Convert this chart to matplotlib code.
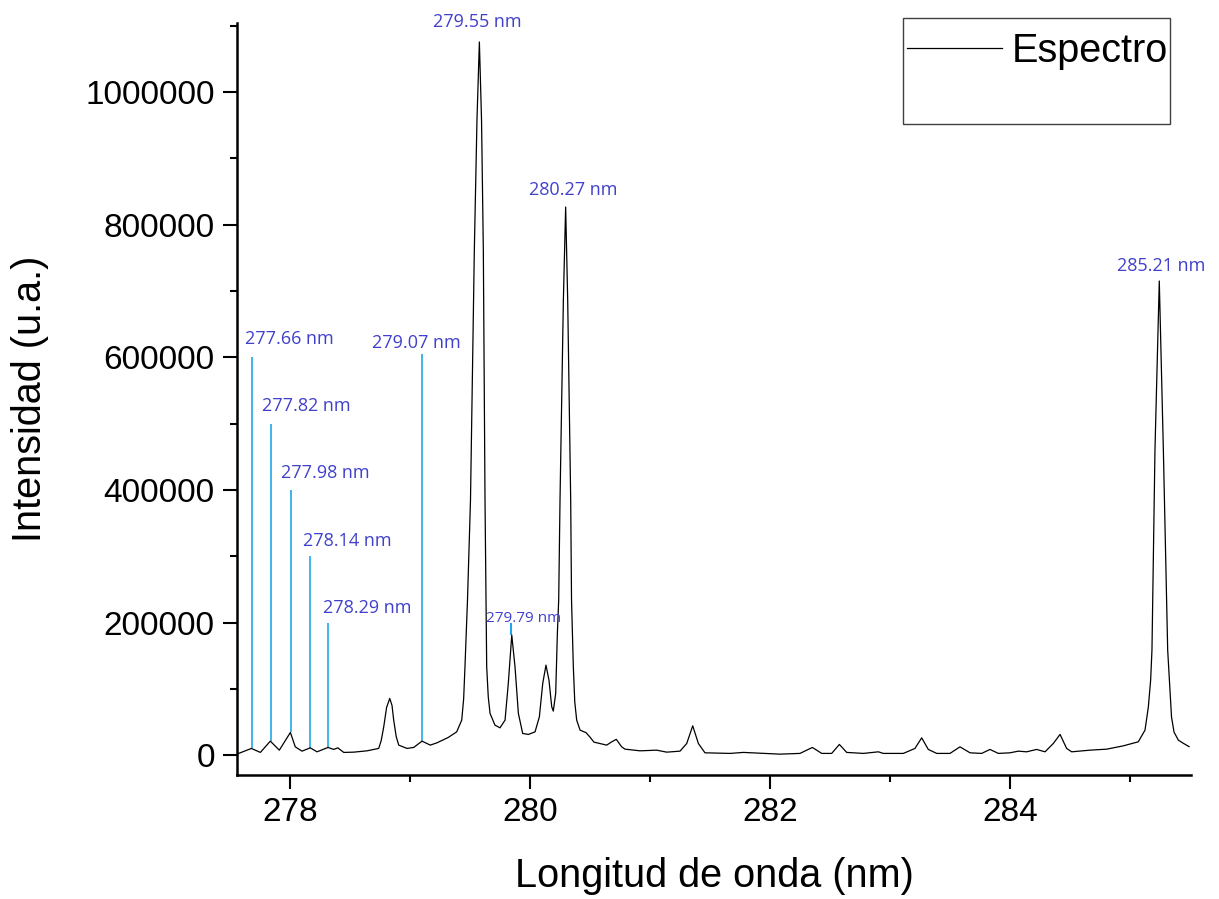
import matplotlib
matplotlib.use("Agg")
import matplotlib.pyplot as plt
from matplotlib.ticker import MultipleLocator, FuncFormatter
from matplotlib.patches import Rectangle

# ---- spectrum ----
wavelength = [
    277.572, 277.678, 277.753, 277.836, 277.911, 278.003, 278.044, 278.100, 278.169, 278.225,
    278.317, 278.364, 278.398, 278.448, 278.531, 278.642, 278.739, 278.760, 278.781, 278.805,
    278.831, 278.850, 278.864, 278.885,
    278.906, 278.975, 279.031, 279.100, 279.169, 279.225, 279.319, 279.389, 279.431, 279.447,
    279.458, 279.479, 279.504, 279.536, 279.558, 279.578, 279.596, 279.611, 279.625, 279.633,
    279.639, 279.652,
    279.667, 279.708, 279.750, 279.792, 279.819, 279.848, 279.875, 279.903, 279.939, 279.986,
    280.042, 280.078, 280.106, 280.133, 280.158, 280.181, 280.194, 280.214, 280.228, 280.239,
    280.250, 280.278, 280.297, 280.314, 280.339, 280.346, 280.361, 280.373, 280.389, 280.417,
    280.467, 280.500, 280.533, 280.639, 280.681, 280.719, 280.764, 280.792, 280.917, 281.056,
    281.139, 281.250, 281.306, 281.356, 281.403, 281.458, 281.667, 281.778, 282.083, 282.250,
    282.353, 282.431, 282.514, 282.578, 282.639, 282.778, 282.903, 282.944, 283.111, 283.208,
    283.264, 283.319, 283.389, 283.500, 283.583, 283.667, 283.764, 283.833, 283.903, 284.000,
    284.069, 284.139, 284.222, 284.292, 284.361, 284.417, 284.472, 284.514, 284.667, 284.806,
    284.944, 285.069, 285.125, 285.153, 285.172, 285.183, 285.208, 285.229, 285.244, 285.258,
    285.278, 285.314, 285.333, 285.346, 285.367, 285.403, 285.442, 285.492,
]
intensity = [
    2600, 10100, 4100, 21100, 7500, 34200, 12500, 6000, 11000, 5000,
    11600, 8600, 11000, 4100, 4500, 6500, 10100, 22000, 42700, 72000,
    85500, 75000, 52800, 28000,
    15100, 10100, 11600, 21100, 15100, 18600, 26700, 35100, 52800, 85000,
    133200, 233800, 384600, 761700, 957800, 1075400, 957800, 761700, 384600, 233800,
    133200, 88000,
    62900, 45200, 41200, 52800, 108100, 181000, 133200, 62900, 32700, 31200,
    35100, 57800, 108100, 135700, 113100, 72900, 66400, 93100, 183600, 233800,
    384600, 686300, 826500, 686300, 384600, 233800, 133200, 80000, 52800, 37700,
    33900, 27100, 19600, 15100, 20100, 23800, 12500, 9000, 6500, 7500,
    4500, 6000, 17600, 44200, 17600, 3500, 2600, 4100, 1500, 2600,
    11600, 2600, 2600, 16100, 4100, 2600, 5000, 2600, 2600, 10100,
    26100, 8600, 2600, 2600, 12500, 3500, 2600, 8600, 2600, 3500,
    6000, 5000, 8600, 5000, 17600, 31200, 10100, 5000, 7500, 9000,
    14000, 20100, 37700, 72900, 113100, 158400, 460000, 610900, 715000, 610900,
    460000, 158400, 98000, 57300, 34700, 22600, 18100, 12800,
]

# ---- reference lines (cyan) ----
line_x = [277.68, 277.84, 278.005, 278.17, 278.32, 279.10]
line_bottom = [10100, 21100, 34200, 11000, 11600, 21100]
line_top = [600000, 500000, 400000, 300000, 200000, 605000]
line_labels = ["277.66 nm", "277.82 nm", "277.98 nm", "278.14 nm", "278.29 nm", "279.07 nm"]
line_label_x = [277.625, 277.767, 277.925, 278.108, 278.275, 278.683]
line_label_y = [627500, 526400, 425300, 322800, 221700, 621400]

# ---- peak labels ----
peak_labels = ["279.55 nm", "280.27 nm", "285.21 nm"]
peak_label_x = [279.558, 280.358, 285.258]
peak_label_y = [1105600, 852200, 737600]

small_label = "279.79 nm"
small_label_x = 279.95
small_label_y = 206600
small_line_x = 279.842
small_line_y = [181000, 199500]

LABEL_BLUE = "#4040CC"
LINE_CYAN = "#1FA8E8"

fig = plt.figure(figsize=(12.19, 8.99), dpi=100)
ax = fig.add_axes([0.1944, 0.1379, 0.977 - 0.1944, 0.9744 - 0.1379])

ax.plot(wavelength, intensity, color="black", lw=0.9, label="Espectro", zorder=3)

for x, b, t in zip(line_x, line_bottom, line_top):
    ax.vlines(x, b, t, color=LINE_CYAN, lw=1.2, zorder=2)
for s, x, y in zip(line_labels, line_label_x, line_label_y):
    ax.text(x, y, s, color=LABEL_BLUE, fontsize=13, family="Open Sans",
            ha="left", va="center")

for s, x, y in zip(peak_labels, peak_label_x, peak_label_y):
    ax.text(x, y, s, color=LABEL_BLUE, fontsize=13, family="Open Sans",
            ha="center", va="center", clip_on=False)

ax.vlines(small_line_x, small_line_y[0], small_line_y[1], color=LINE_CYAN, lw=1.5, zorder=2)
ax.text(small_label_x, small_label_y, small_label, color=LABEL_BLUE, fontsize=11,
        family="Open Sans", ha="center", va="center")

ax.set_xlim(277.558, 285.508)
ax.set_ylim(-30000, 1104000)

for side in ["top", "right"]:
    ax.spines[side].set_visible(False)
for side in ["left", "bottom"]:
    ax.spines[side].set_linewidth(1.8)

ax.xaxis.set_major_locator(MultipleLocator(2))
ax.xaxis.set_minor_locator(MultipleLocator(1))
ax.yaxis.set_major_locator(MultipleLocator(200000))
ax.yaxis.set_minor_locator(MultipleLocator(100000))
ax.yaxis.set_major_formatter(FuncFormatter(lambda v, p: f"{int(round(v))}"))
ax.xaxis.set_major_formatter(FuncFormatter(lambda v, p: f"{int(round(v))}"))
ax.tick_params(which="major", direction="out", length=10, width=1.5,
               labelsize=24, pad=6)
ax.tick_params(which="minor", direction="out", length=5, width=1.5)
for lab in ax.get_xticklabels() + ax.get_yticklabels():
    lab.set_family("Liberation Sans")

ax.set_xlabel("Longitud de onda (nm)", fontsize=28.5, family="Liberation Sans", labelpad=21)
ax.set_ylabel("Intensidad (u.a.)", fontsize=28.5, family="Liberation Sans", labelpad=26)

# legend with Origin-like tall box
rect = Rectangle((0.698, 0.866), 0.978 - 0.698, 1.007 - 0.866, transform=ax.transAxes,
                 fill=False, edgecolor="#404040", lw=1.0, clip_on=False, zorder=5)
ax.add_patch(rect)
leg = ax.legend(loc="upper left", bbox_to_anchor=(0.694, 0.999), frameon=False,
                prop={"family": "Liberation Sans", "size": 28.5}, handlelength=2.4,
                handletextpad=0.25, borderpad=0.2, borderaxespad=0)
for h in leg.get_lines():
    h.set_linewidth(0.9)

fig.savefig("out.png", dpi=100)
